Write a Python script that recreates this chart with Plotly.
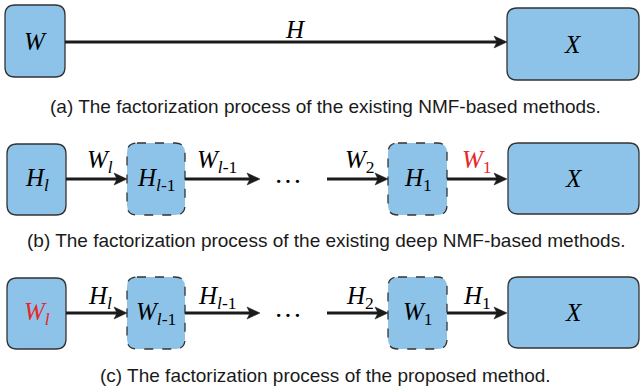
import plotly.graph_objects as go

# ---- diagram content -------------------------------------------------
# node labels per row (left to right)
nodes_a = ["<i>W</i>", "<i>X</i>"]
nodes_b = ["<i>H</i><sub><i>l</i></sub>", "<i>H</i><sub><i>l</i>-1</sub>",
           "<i>H</i><sub>1</sub>", "<i>X</i>"]
nodes_c = ["<i>W</i><sub><i>l</i></sub>", "<i>W</i><sub><i>l</i>-1</sub>",
           "<i>W</i><sub>1</sub>", "<i>X</i>"]
# edge labels per row
edges_a = ["<i>H</i>"]
edges_b = ["<i>W</i><sub><i>l</i></sub>", "<i>W</i><sub><i>l</i>-1</sub>",
           "<i>W</i><sub>2</sub>", "<i>W</i><sub>1</sub>"]
edges_c = ["<i>H</i><sub><i>l</i></sub>", "<i>H</i><sub><i>l</i>-1</sub>",
           "<i>H</i><sub>2</sub>", "<i>H</i><sub>1</sub>"]
captions = [
    "(a) The factorization process of the existing NMF-based methods.",
    "(b) The factorization process of the existing deep NMF-based methods.",
    "(c) The factorization process of the proposed method.",
]

# ---- geometry (pixels, origin top-left) ------------------------------
BOX_FILL = "#8dc3e8"
BOX_LINE = "#333333"
ARROW = "#1a1a1a"
RED = "#e8262a"
SERIF = "Liberation Serif, Times New Roman, serif"
SANS = "Liberation Sans, Arial, sans-serif"
LABEL_SIZE = 25
CAPTION_SIZE = 19


def rounded_rect(x0, y0, x1, y1, r=10):
    return (f"M{x0+r},{y0} L{x1-r},{y0} Q{x1},{y0} {x1},{y0+r} "
            f"L{x1},{y1-r} Q{x1},{y1} {x1-r},{y1} L{x0+r},{y1} "
            f"Q{x0},{y1} {x0},{y1-r} L{x0},{y0+r} Q{x0},{y0} {x0+r},{y0} Z")


shapes = []
annotations = []


def add_box(x0, y0, x1, y1, label, dashed=False, color="black"):
    shapes.append(dict(
        type="path", path=rounded_rect(x0, y0, x1, y1), xref="x", yref="y",
        fillcolor=BOX_FILL,
        line=dict(color=BOX_LINE, width=1.3, dash="dash" if dashed else "solid"),
        layer="below"))
    annotations.append(dict(
        x=(x0 + x1) / 2, y=(y0 + y1) / 2, xref="x", yref="y", text=label,
        showarrow=False, font=dict(family=SERIF, size=LABEL_SIZE, color=color)))


def add_arrow(x0, x1, y, label=None, ly=None, lx=None, color="black"):
    # shaft
    shapes.append(dict(type="line", x0=x0, x1=x1 - 8, y0=y, y1=y,
                       xref="x", yref="y", line=dict(color=ARROW, width=3)))
    # slightly notched filled head
    shapes.append(dict(
        type="path", xref="x", yref="y", fillcolor=ARROW,
        line=dict(color=ARROW, width=0.5),
        path=(f"M{x1},{y} L{x1-13},{y-6} L{x1-10},{y} "
              f"L{x1-13},{y+6} Z")))
    if label is not None:
        annotations.append(dict(
            x=lx if lx is not None else (x0 + x1) / 2, y=ly, xref="x", yref="y",
            text=label, showarrow=False,
            font=dict(family=SERIF, size=LABEL_SIZE, color=color)))


# row (a)
add_box(5, 5, 65, 77, nodes_a[0])
add_box(507, 8, 639, 80, nodes_a[1])
add_arrow(65, 507, 42, edges_a[0], ly=29, lx=295)

# rows (b) and (c)
for row, (nodes, edges, top, ay, ly) in enumerate([
        (nodes_b, edges_b, 143, 179, 161),
        (nodes_c, edges_c, 277, 313, 297)]):
    add_box(7, top + 1, 66, top + 72, nodes[0],
            color=RED if row == 1 else "black")
    add_box(127, top, 185, top + 72, nodes[1], dashed=True)
    add_box(388, top, 447, top + 72, nodes[2], dashed=True)
    add_box(508, top, 639, top + 71, nodes[3])
    add_arrow(66, 127, ay, edges[0], ly=ly, lx=100)
    add_arrow(185, 260, ay, edges[1], ly=ly, lx=217)
    add_arrow(327, 388, ay, edges[2], ly=ly, lx=360)
    add_arrow(447, 507, ay, edges[3], ly=ly, lx=477,
              color=RED if row == 0 else "black")
    annotations.append(dict(
        x=288, y=ay + 2, xref="x", yref="y", text="···", showarrow=False,
        font=dict(family=SERIF, size=28, color="black")))

# captions
for text, cy in zip(captions, [106, 240, 375]):
    annotations.append(dict(
        x=325.5, y=cy, xref="x", yref="y", text=text, showarrow=False,
        font=dict(family=SANS, size=CAPTION_SIZE, color="#1a1a1a")))

fig = go.Figure()
fig.update_layout(
    width=641, height=392, margin=dict(l=0, r=0, t=0, b=0),
    paper_bgcolor="white", plot_bgcolor="white",
    xaxis=dict(range=[0, 641], visible=False, fixedrange=True),
    yaxis=dict(range=[392, 0], visible=False, fixedrange=True),
    shapes=shapes, annotations=annotations, showlegend=False,
)
fig.write_html("out.html")
